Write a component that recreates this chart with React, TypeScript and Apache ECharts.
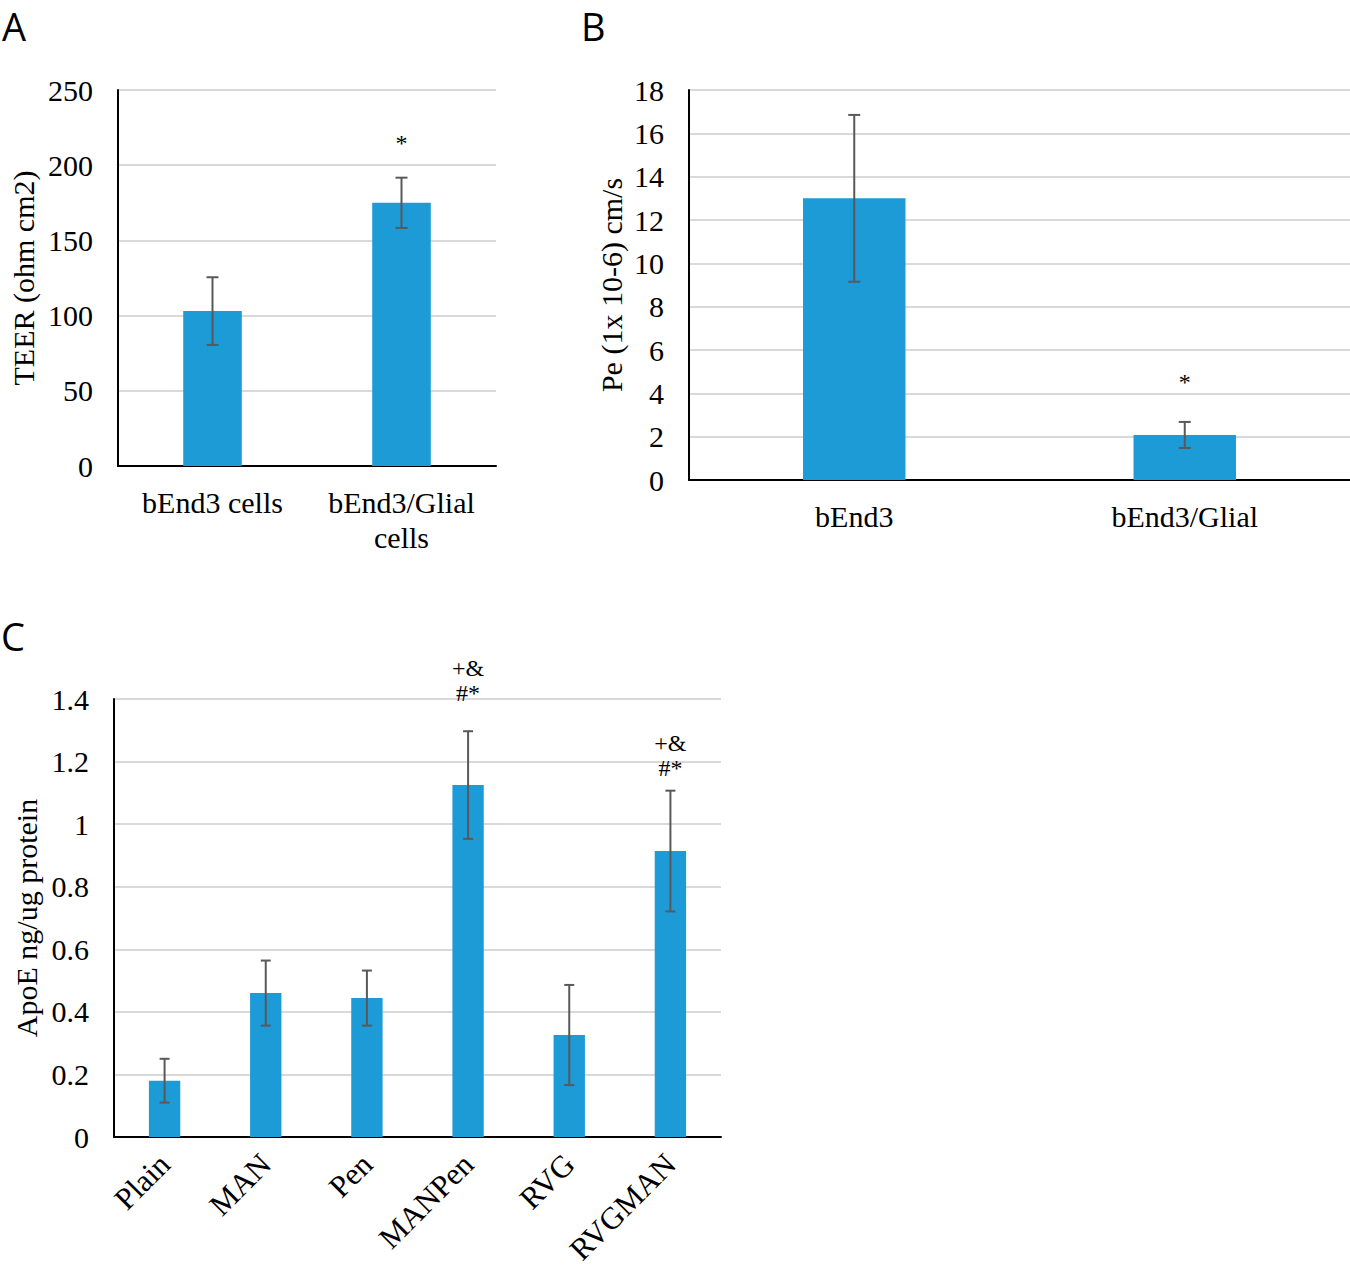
import React, { useEffect, useRef } from "react";
import * as echarts from "echarts";

// Panel A
const catsA = ["bEnd3 cells", "bEnd3/Glial\ncells"];
const valsA = [103, 175];
const errA = [22.5, 16.7];
const annA = ["", "*"];
const annYA = [0, 215];
const ticksA = { min: 0, max: 250, interval: 50 };

// Panel B
const catsB = ["bEnd3", "bEnd3/Glial"];
const valsB = [13.0, 2.08];
const errB = [3.85, 0.6];
const annB = ["", "*"];
const annYB = [0, 4.52];
const ticksB = { min: 0, max: 18, interval: 2 };

// Panel C
const catsC = ["Plain", "MAN", "Pen", "MANPen", "RVG", "RVGMAN"];
const valsC = [0.18, 0.46, 0.444, 1.125, 0.326, 0.914];
const errC = [0.07, 0.104, 0.088, 0.172, 0.16, 0.193];
const annC = ["", "", "", "+&\n#*", "", "+&\n#*"];
const annYC = [0, 0, 0, 1.46, 0, 1.22];
const ticksC = { min: 0, max: 1.4, interval: 0.2 };

const SERIF = "'Liberation Serif', 'Times New Roman', serif";
const BAR = "#1D9BD7";
const ERR = "#595959";

function errorRender(capW: number) {
  return (params: any, api: any) => {
    const i = api.value(0);
    const lo = api.value(1);
    const hi = api.value(2);
    const pHi = api.coord([i, hi]);
    const pLo = api.coord([i, lo]);
    const style = { stroke: ERR, lineWidth: 2 };
    return {
      type: "group",
      children: [
        { type: "line", shape: { x1: pHi[0], y1: pHi[1], x2: pLo[0], y2: pLo[1] }, style },
        { type: "line", shape: { x1: pHi[0] - capW / 2, y1: pHi[1], x2: pHi[0] + capW / 2, y2: pHi[1] }, style },
        { type: "line", shape: { x1: pLo[0] - capW / 2, y1: pLo[1], x2: pLo[0] + capW / 2, y2: pLo[1] }, style },
      ],
    };
  };
}

function annRender(texts: string[]) {
  return (params: any, api: any) => {
    const t = texts[params.dataIndex];
    if (!t) return null;
    const p = api.coord([api.value(0), api.value(1)]);
    return {
      type: "text",
      x: p[0],
      y: p[1],
      style: {
        text: t,
        fontFamily: SERIF,
        fontSize: 24,
        lineHeight: 25,
        fill: "#000",
        align: "center",
        verticalAlign: "middle",
      },
    };
  };
}

function panel(
  idx: number,
  vals: number[],
  errs: number[],
  ann: string[],
  annY: number[],
  capW: number
) {
  return [
    {
      type: "bar",
      xAxisIndex: idx,
      yAxisIndex: idx,
      data: vals,
      barWidth: "31%",
      itemStyle: { color: BAR },
      z: 2,
    },
    {
      type: "custom",
      xAxisIndex: idx,
      yAxisIndex: idx,
      renderItem: errorRender(capW),
      data: vals.map((v, i) => [i, v - errs[i], v + errs[i]]),
      z: 5,
    },
    {
      type: "custom",
      xAxisIndex: idx,
      yAxisIndex: idx,
      renderItem: annRender(ann),
      data: annY.map((y, i) => [i, y]),
      z: 6,
    },
  ];
}

function yAxis(idx: number, t: { min: number; max: number; interval: number }, name: string, nameGap: number) {
  return {
    type: "value",
    gridIndex: idx,
    min: t.min,
    max: t.max,
    interval: t.interval,
    name,
    nameLocation: "middle",
    nameGap,
    nameRotate: 90,
    nameTextStyle: { fontFamily: SERIF, fontSize: 30, color: "#000" },
    axisLine: { show: true, lineStyle: { color: "#000", width: 2 } },
    axisTick: { show: false },
    axisLabel: { fontFamily: SERIF, fontSize: 30, color: "#000", margin: 25 },
    splitLine: { show: true, lineStyle: { color: "#d9d9d9", width: 2 } },
  };
}

function xAxis(idx: number, cats: string[], extra: any = {}) {
  return {
    type: "category",
    gridIndex: idx,
    data: cats,
    axisLine: { show: true, lineStyle: { color: "#000", width: 2 } },
    axisTick: { show: false },
    axisLabel: {
      fontFamily: SERIF,
      fontSize: 30,
      color: "#000",
      margin: 19,
      lineHeight: 35,
      interval: 0,
      ...extra,
    },
    splitLine: { show: false },
  };
}

export default function App() {
  const ref = useRef<HTMLDivElement>(null);
  useEffect(() => {
    if (!ref.current) return;
    const chart = echarts.init(ref.current, null, { renderer: "svg" });
    const letter = (t: string, x: number, y: number) => ({
      type: "text",
      x,
      y,
      style: {
        text: t,
        fontFamily: "'Open Sans', 'DejaVu Sans', sans-serif",
        fontSize: 38,
        fill: "#000",
        align: "left",
        verticalAlign: "top",
      },
    });
    chart.setOption({
      animation: false,
      backgroundColor: "#fff",
      grid: [
        { left: 118, top: 90, width: 378, height: 376, containLabel: false, outerBoundsMode: "none" },
        { left: 689, top: 90, width: 661, height: 390, containLabel: false, outerBoundsMode: "none" },
        { left: 114, top: 699, width: 607, height: 438, containLabel: false, outerBoundsMode: "none" },
      ],
      xAxis: [
        xAxis(0, catsA),
        xAxis(1, catsB),
        xAxis(2, catsC, { rotate: 45, margin: 22, fontSize: 31 }),
      ],
      yAxis: [
        yAxis(0, ticksA, "TEER (ohm cm2)", 80),
        yAxis(1, ticksB, "Pe (1x 10-6) cm/s", 63),
        yAxis(2, ticksC, "ApoE ng/ug protein", 73),
      ],
      series: [
        ...panel(0, valsA, errA, annA, annYA, 12),
        ...panel(1, valsB, errB, annB, annYB, 12),
        ...panel(2, valsC, errC, annC, annYC, 10),
      ],
      graphic: [letter("A", 2, 7), letter("B", 581, 7), letter("C", 1, 617)],
    });
    return () => chart.dispose();
  }, []);
  return (
    <div
      ref={ref}
      style={{ position: "absolute", left: 0, top: 0, width: 1350, height: 1271 }}
    />
  );
}
